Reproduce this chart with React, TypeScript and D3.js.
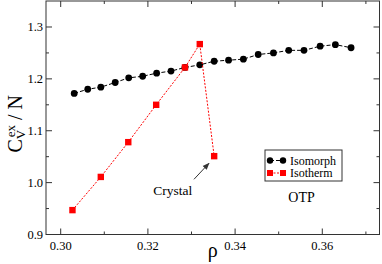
import React from 'react';
import * as d3 from 'd3';

// Isomorph (black circles)
const isomorphRho = [0.3031, 0.3062, 0.3092, 0.3125, 0.3156, 0.3188, 0.3220, 0.3253, 0.3285, 0.3319,
    0.3352, 0.3385, 0.3419, 0.3453, 0.3488, 0.3523, 0.3558, 0.3595, 0.3630, 0.3666];
const isomorphCv = [1.172, 1.180, 1.184, 1.193, 1.202, 1.205, 1.211, 1.215, 1.222, 1.227,
    1.234, 1.236, 1.238, 1.247, 1.250, 1.255, 1.255, 1.263, 1.266, 1.260];

// Isotherm (red squares)
const isothermRho = [0.3027, 0.3092, 0.3155, 0.3219, 0.3285, 0.3319, 0.3352];
const isothermCv = [0.947, 1.011, 1.078, 1.150, 1.222, 1.267, 1.051];

const xTicks = [0.30, 0.32, 0.34, 0.36];
const xMinor = [0.31, 0.33, 0.35, 0.37];
const yTicks = [0.9, 1.0, 1.1, 1.2, 1.3];
const yMinor = [0.95, 1.05, 1.15, 1.25];

const legendNames = ['Isomorph', 'Isotherm'];

const FONT = 'Liberation Serif';

const width = 382;
const height = 264;
const left = 46, right = 379.5, top = 1, bottom = 234.5;

const x = d3.scaleLinear().domain([0.29663, 0.37312]).range([left, right]);
const y = d3.scaleLinear().domain([0.9, 1.3501]).range([bottom, top]);

const App = () => {
    const isomorph = isomorphRho.map((r, i) => ({ r, v: isomorphCv[i] }));
    const isotherm = isothermRho.map((r, i) => ({ r, v: isothermCv[i] }));
    const line = d3.line<{ r: number; v: number }>().x(d => x(d.r)).y(d => y(d.v));

    const fmtX = d3.format('.2f');
    const fmtY = d3.format('.1f');

    const xTickLines = (vals: number[], len: number) => vals.map(v => (
        <g key={'x' + v}>
            <line x1={x(v)} x2={x(v)} y1={bottom} y2={bottom - len} />
            <line x1={x(v)} x2={x(v)} y1={top} y2={top + len} />
        </g>
    ));
    const yTickLines = (vals: number[], len: number) => vals.map(v => (
        <g key={'y' + v}>
            <line y1={y(v)} y2={y(v)} x1={left} x2={left + len} />
            <line y1={y(v)} y2={y(v)} x1={right} x2={right - len} />
        </g>
    ));

    return (
        <svg width={width} height={height}
            style={{ position: 'absolute', left: 0, top: 0, display: 'block' }}
            fontFamily={FONT}>
            <defs>
                <marker id="arrow" viewBox="0 0 10 10" refX={9} refY={5}
                    markerWidth={7} markerHeight={7} orient="auto">
                    <path d="M0,1 L10,5 L0,9 Z" fill="#333" />
                </marker>
            </defs>

            {/* frame */}
            <rect x={left} y={top} width={right - left} height={bottom - top}
                fill="none" stroke="#333" strokeWidth={1} />

            <g stroke="#333" strokeWidth={1}>
                {xTickLines(xTicks, 6)}
                {xTickLines(xMinor, 3)}
                {yTickLines(yTicks, 6)}
                {yTickLines(yMinor, 3)}
            </g>

            {/* tick labels */}
            {xTicks.map(d => (
                <text key={'xl' + d} x={x(d)} y={bottom + 15} textAnchor="middle"
                    fontSize={12.5} fontFamily={FONT}>{fmtX(d)}</text>
            ))}
            {yTicks.map(d => (
                <text key={'yl' + d} x={left - 3} y={y(d) + 4.5} textAnchor="end"
                    fontSize={12.5} fontFamily={FONT}>{fmtY(d)}</text>
            ))}

            {/* axis labels */}
            <text x={(left + right) / 2} y={bottom + 22} textAnchor="middle"
                fontSize={20} fontFamily={FONT}>ρ</text>
            <text transform={`translate(22, ${(top + bottom) / 2 + 6}) rotate(-90)`}
                textAnchor="middle" fontSize={20} fontFamily={FONT}>
                <tspan>C</tspan>
                <tspan dy={3} fontSize={13}>V</tspan>
                <tspan dx={-6} dy={-10} fontSize={13}>ex</tspan>
                <tspan dy={7}>{' / N'}</tspan>
            </text>

            {/* isomorph */}
            <path d={line(isomorph) || ''} fill="none" stroke="#000" strokeWidth={1} strokeDasharray="4,2" />
            {isomorph.map((d, i) => (
                <circle key={'c' + i} cx={x(d.r)} cy={y(d.v)} r={3.4} fill="#000" />
            ))}

            {/* isotherm */}
            <path d={line(isotherm) || ''} fill="none" stroke="#ff0000" strokeWidth={1} strokeDasharray="2,1.5" />
            {isotherm.map((d, i) => (
                <rect key={'s' + i} x={x(d.r) - 3.2} y={y(d.v) - 3.2} width={6.4} height={6.4} fill="#ff0000" />
            ))}

            {/* annotations */}
            <line x1={x(0.33057)} y1={y(1.0064)} x2={x(0.33401)} y2={y(1.0373)}
                stroke="#333" strokeWidth={1} markerEnd="url(#arrow)" />
            <text x={x(0.32124)} y={y(0.977)} fontSize={13.5} fontFamily={FONT}>Crystal</text>
            <text x={x(0.3522)} y={y(0.9631)} fontSize={14} fontFamily={FONT}>OTP</text>

            {/* legend */}
            <g transform="translate(265, 150)">
                <rect width={77} height={31} fill="#fff" stroke="#333" strokeWidth={1} />
                {legendNames.map((name, i) => {
                    const red = i === 1;
                    return (
                        <g key={name} transform={`translate(0, ${10.5 + i * 12.5})`}>
                            <line x1={5} x2={18} stroke={red ? '#ff0000' : '#000'}
                                strokeDasharray={red ? '2,1.5' : '4,2'} />
                            {[5, 18].map(cx => red
                                ? <rect key={cx} x={cx - 3} y={-3} width={6} height={6} fill="#ff0000" />
                                : <circle key={cx} cx={cx} cy={0} r={3.2} fill="#000" />)}
                            <text x={25} y={4.2} fontSize={12} fontFamily={FONT}>{name}</text>
                        </g>
                    );
                })}
            </g>
        </svg>
    );
};

export default App;
